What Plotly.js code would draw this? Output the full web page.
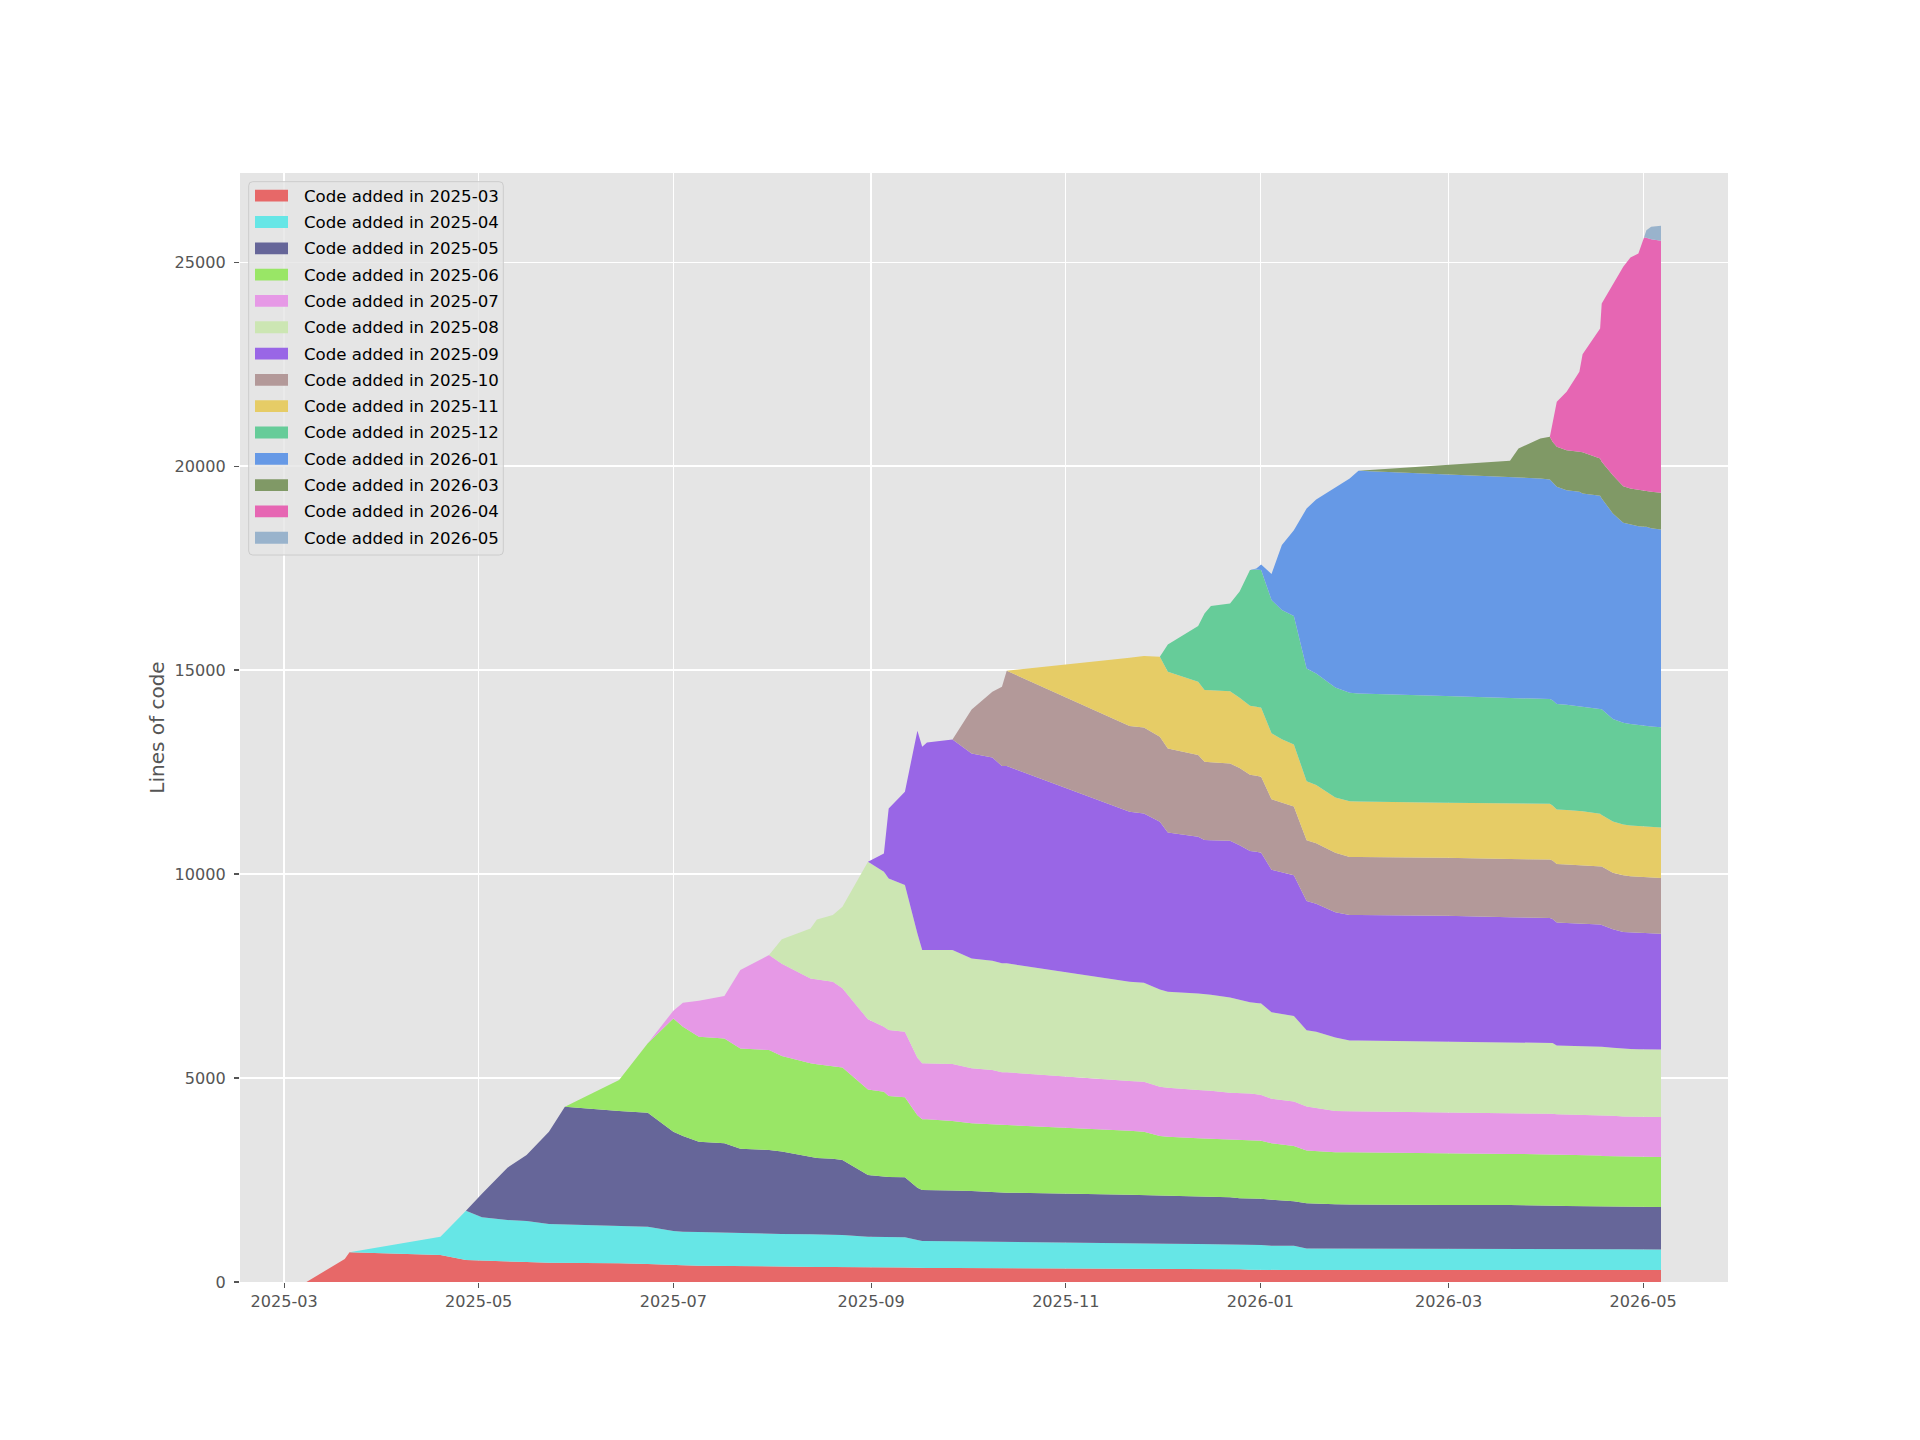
<!DOCTYPE html>
<html>
<head>
<meta charset="utf-8">
<script src="https://cdn.plot.ly/plotly-3.0.1.min.js"></script>
<style>html,body{margin:0;padding:0;background:#fff;}#chart{width:1920px;height:1440px;}</style>
</head>
<body>
<div id="chart"></div>
<script>
const dates = [
 '2025-03-08','2025-03-20','2025-03-21 12:00','2025-04-16','2025-04-19','2025-04-27','2025-05-02','2025-05-10','2025-05-16','2025-05-23',
 '2025-05-28','2025-06-14','2025-06-23','2025-07-01','2025-07-04','2025-07-09','2025-07-17','2025-07-22','2025-07-31','2025-08-04',
 '2025-08-13','2025-08-15','2025-08-20','2025-08-23','2025-08-31','2025-09-05','2025-09-06 12:00','2025-09-11 14:00','2025-09-15 12:00','2025-09-17',
 '2025-09-18 12:00','2025-09-26 12:00','2025-10-02 12:00','2025-10-09','2025-10-12','2025-10-13 12:00','2025-11-21','2025-11-25 12:00','2025-11-30 12:00','2025-12-03',
 '2025-12-12 12:00','2025-12-14 12:00','2025-12-16 12:00','2025-12-22 12:00','2025-12-25 12:00','2025-12-28 18:00','2025-12-30 18:00','2026-01-01 06:00','2026-01-04 12:00','2026-01-07 18:00',
 '2026-01-11 12:00','2026-01-15 12:00','2026-01-18 12:00','2026-01-24 12:00','2026-01-29','2026-01-31 18:00','2026-02-28','2026-03-20 06:00','2026-03-22 22:00','2026-03-29 18:00',
 '2026-04-01 18:00','2026-04-02 14:00','2026-04-03 22:00','2026-04-07','2026-04-11','2026-04-12','2026-04-17 12:00','2026-04-18','2026-04-21 12:00','2026-04-24 18:00',
 '2026-04-27','2026-04-29 12:00','2026-05-01 06:00','2026-05-02','2026-05-03 12:00','2026-05-06 14:00'
];

const cohorts = [
 'Code added in 2025-03','Code added in 2025-04','Code added in 2025-05','Code added in 2025-06',
 'Code added in 2025-07','Code added in 2025-08','Code added in 2025-09','Code added in 2025-10',
 'Code added in 2025-11','Code added in 2025-12','Code added in 2026-01','Code added in 2026-03',
 'Code added in 2026-04','Code added in 2026-05'
];

const colors = ['#e76868','#66e6e6','#666699','#99e666','#e699e6','#cce6b3','#9966e6','#b39999',
                '#e6cc66','#66cc99','#6699e6','#809966','#e666b3','#99b3cc'];

const code2025_03 = [0,564,727,678,662,539,523,498,490,474,
 474,458,441,408,408,400,392,376,368,370,
 370,370,370,370,365,360,360,355,350,343,
 343,343,342,340,340,340,335,335,335,333,
 330,330,330,330,314,300,296,296,296,296,
 296,296,296,296,296,296,296,296,296,296,
 296,296,296,296,296,296,296,296,296,296,
 296,296,296,296,296,296];

const code2025_04 = [0,0,0,400,449,1209,1062,1022,1005,948,
 939,923,915,842,826,826,817,817,808,806,
 798,795,790,782,746,751,745,740,680,662,
 662,657,648,645,640,640,621,613,610,607,
 601,600,598,593,601,615,616,614,591,591,
 591,526,526,526,526,524,519,514,514,512,
 512,511,509,509,509,509,508,508,508,504,
 502,501,501,501,500,498];

const code2025_05 = [0,0,0,0,0,0,580,1282,1618,2263,
 2884,2810,2794,2435,2344,2214,2190,2075,2059,2024,
 1888,1875,1863,1838,1512,1471,1470,1470,1282,1250,
 1250,1240,1240,1215,1210,1210,1185,1184,1163,1160,
 1161,1160,1157,1152,1136,1130,1130,1130,1127,1113,
 1090,1109,1098,1081,1078,1078,1075,1077,1077,1077,
 1077,1073,1065,1060,1057,1057,1046,1041,1034,1038,
 1040,1041,1041,1041,1042,1044];

const code2025_06 = [0,0,0,0,0,0,0,0,0,0,
 0,760,1700,2777,2680,2573,2573,2459,2451,2340,
 2304,2300,2271,2271,2099,2083,1984,1961,1773,1732,
 1732,1706,1659,1660,1658,1658,1568,1553,1470,1460,
 1429,1425,1420,1405,1423,1425,1423,1420,1386,1370,
 1358,1293,1285,1275,1278,1277,1269,1253,1253,1247,
 1247,1248,1250,1250,1248,1248,1250,1243,1248,1242,
 1237,1234,1232,1232,1230,1229];

const code2025_07 = [0,0,0,0,0,0,0,0,0,0,
 0,0,0,188,588,882,1038,1920,2329,2260,
 2083,2078,2067,1937,1716,1593,1617,1610,1413,1373,
 1373,1397,1348,1336,1292,1292,1221,1225,1209,1200,
 1185,1185,1185,1160,1163,1150,1135,1122,1090,1090,
 1090,1081,1065,1016,1007,1008,989,995,995,997,
 997,997,990,990,990,990,990,987,988,980,
 980,980,980,980,980,979];

const code2025_08 = [0,0,0,0,0,0,0,0,0,0,
 0,0,0,0,0,0,0,0,0,600,
 1225,1471,1635,2001,3864,3799,3718,3594,3048,2777,
 2777,2794,2696,2680,2671,2671,2431,2427,2386,2356,
 2369,2360,2350,2337,2273,2235,2240,2245,2124,2108,
 2097,1866,1864,1802,1737,1735,1746,1745,1745,1746,
 1746,1735,1690,1690,1690,1690,1685,1690,1666,1658,
 1657,1656,1655,1655,1654,1654];

const code2025_09 = [0,0,0,0,0,0,0,0,0,0,
 0,0,0,0,0,0,0,0,0,0,
 0,0,0,0,0,450,1716,2288,4967,4984,
 5090,5163,5025,4984,4836,4836,4167,4150,4110,3905,
 3840,3773,3787,3840,3797,3713,3705,3695,3492,3472,
 3446,3169,3141,3066,3076,3077,3085,3060,3060,3049,
 3049,3040,3013,3005,3000,3000,2990,2985,2907,2864,
 2858,2852,2849,2849,2843,2836];

const code2025_10 = [0,0,0,0,0,0,0,0,0,0,
 0,0,0,0,0,0,0,0,0,0,
 0,0,0,0,0,0,0,0,0,0,
 0,0,1078,1609,1945,2337,2100,2107,2083,2059,
 2002,1921,1913,1896,1894,1867,1865,1866,1728,1710,
 1690,1487,1478,1460,1422,1423,1423,1430,1430,1432,
 1432,1430,1432,1435,1430,1430,1435,1435,1386,1386,
 1375,1370,1368,1368,1367,1367];

const code2025_11 = [0,0,0,0,0,0,0,0,0,0,
 0,0,0,0,0,0,0,0,0,0,
 0,0,0,0,0,0,0,0,0,0,
 0,0,0,0,0,0,1674,1749,1961,1880,
 1797,1756,1765,1767,1719,1689,1690,1690,1617,1553,
 1516,1450,1432,1358,1368,1362,1349,1360,1360,1367,
 1367,1350,1339,1335,1320,1320,1280,1265,1256,1247,
 1245,1250,1248,1248,1243,1238];

const code2025_12 = [0,0,0,0,0,0,0,0,0,0,
 0,0,0,0,0,0,0,0,0,0,
 0,0,0,0,0,0,0,0,0,0,
 0,0,0,0,0,0,0,0,0,670,
 1365,1879,2064,2154,2608,3327,3367,3373,3265,3168,
 3150,2764,2733,2695,2656,2648,2612,2592,2592,2577,
 2567,2583,2587,2580,2570,2570,2580,2590,2512,2494,
 2490,2470,2465,2465,2460,2457];

const code2026_01 = [0,0,0,0,0,0,0,0,0,0,
 0,0,0,0,0,0,0,0,0,0,
 0,0,0,0,0,0,0,0,0,0,
 0,0,0,0,0,0,0,0,0,0,
 0,0,0,0,0,0,25,139,637,1593,
 2107,3921,4265,4902,5254,5458,5432,5417,5408,5398,
 5383,5337,5322,5262,5261,5220,5213,5168,5039,4902,
 4890,4879,4880,4880,4865,4849];

const code2026_03 = [0,0,0,0,0,0,0,0,0,0,
 0,0,0,0,0,0,0,0,0,0,
 0,0,0,0,0,0,0,0,0,0,
 0,0,0,0,0,0,0,0,0,0,
 0,0,0,0,0,0,0,0,0,0,
 0,0,0,0,0,0,238,392,703,980,
 1046,1000,981,980,980,1010,915,898,939,899,
 880,899,885,875,890,899];

const code2026_04 = [0,0,0,0,0,0,0,0,0,0,
 0,0,0,0,0,0,0,0,0,0,
 0,0,0,0,0,0,0,0,0,0,
 0,0,0,0,0,0,0,0,0,0,
 0,0,0,0,0,0,0,0,0,0,
 0,0,0,0,0,0,0,0,0,0,
 0,487,1103,1430,1961,2405,3186,3881,4671,5376,
 5664,5784,6205,6210,6195,6177];

const code2026_05 = [0,0,0,0,0,0,0,0,0,0,
 0,0,0,0,0,0,0,0,0,0,
 0,0,0,0,0,0,0,0,0,0,
 0,0,0,0,0,0,0,0,0,0,
 0,0,0,0,0,0,0,0,0,0,
 0,0,0,0,0,0,0,0,0,0,
 0,0,0,0,0,0,0,0,0,0,
 0,0,0,185,301,368];

const yTicks = [0, 5000, 10000, 15000, 20000, 25000];

const series = [code2025_03, code2025_04, code2025_05, code2025_06, code2025_07, code2025_08, code2025_09,
                code2025_10, code2025_11, code2025_12, code2026_01, code2026_03, code2026_04, code2026_05];

const traces = series.map((vals, i) => ({
  type: 'scatter',
  mode: 'lines',
  x: dates,
  y: vals,
  name: cohorts[i],
  stackgroup: 'one',
  fillcolor: colors[i],
  line: {width: 0, color: colors[i]},
  showlegend: false,
  hoverinfo: 'x+y+name'
}));

// ---- plot geometry (pixels) ----
const W = 1920, H = 1440;
const M = {l: 240, r: 192, t: 173, b: 158};
const PW = W - M.l - M.r, PH = H - M.t - M.b;
const px = x => (x - M.l) / PW;          // pixel -> paper x
const py = y => (H - M.b - y) / PH;      // pixel -> paper y

// ---- matplotlib-like legend box (built from cohorts/colors) ----
const font = 'DejaVu Sans, Liberation Sans, sans-serif';
const legBox = {x0: 248.7, y0: 181.7, x1: 503.3, y1: 555, r: 4};
const rowTop = 195.7, rowStep = 26.31;
const shapes = [];
const annotations = [];
(function () {
  const b = legBox, r = b.r;
  const X = px, Y = py;
  const path =
    'M' + X(b.x0 + r) + ',' + Y(b.y0) +
    ' L' + X(b.x1 - r) + ',' + Y(b.y0) +
    ' Q' + X(b.x1) + ',' + Y(b.y0) + ' ' + X(b.x1) + ',' + Y(b.y0 + r) +
    ' L' + X(b.x1) + ',' + Y(b.y1 - r) +
    ' Q' + X(b.x1) + ',' + Y(b.y1) + ' ' + X(b.x1 - r) + ',' + Y(b.y1) +
    ' L' + X(b.x0 + r) + ',' + Y(b.y1) +
    ' Q' + X(b.x0) + ',' + Y(b.y1) + ' ' + X(b.x0) + ',' + Y(b.y1 - r) +
    ' L' + X(b.x0) + ',' + Y(b.y0 + r) +
    ' Q' + X(b.x0) + ',' + Y(b.y0) + ' ' + X(b.x0 + r) + ',' + Y(b.y0) + ' Z';
  shapes.push({type: 'path', xref: 'paper', yref: 'paper', path: path,
               fillcolor: 'rgba(229,229,229,0.8)', line: {color: '#cccccc', width: 1}, layer: 'above'});
  cohorts.forEach((name, i) => {
    const yc = rowTop + rowStep * i;
    shapes.push({type: 'rect', xref: 'paper', yref: 'paper',
                 x0: px(255), x1: px(288), y0: py(yc - 5.9), y1: py(yc + 5.9),
                 fillcolor: colors[i], line: {width: 0}, layer: 'above'});
    annotations.push({xref: 'paper', yref: 'paper', x: px(302), y: py(yc + 0.5),
                      xanchor: 'left', yanchor: 'middle', showarrow: false,
                      text: name, font: {family: font, size: 16.6, color: '#000000'}});
  });
})();

const layout = {
  width: W,
  height: H,
  margin: {l: M.l, r: M.r, t: M.t, b: M.b, pad: 0},
  paper_bgcolor: '#ffffff',
  plot_bgcolor: '#e5e5e5',
  font: {family: font, color: '#555555', size: 16},
  showlegend: false,
  shapes: shapes,
  annotations: annotations,
  xaxis: {
    type: 'date',
    range: ['2025-02-15 04:00', '2026-05-27 14:00'],
    tick0: '2025-03-01', dtick: 'M2', tickformat: '%Y-%m',
    ticks: 'outside', ticklen: 5, tickwidth: 1.2, tickcolor: '#555555',
    ticklabelstandoff: 0,
    tickfont: {family: font, size: 16.1, color: '#555555'},
    showgrid: true, gridcolor: '#ffffff', gridwidth: 1.3,
    zeroline: false, showline: false
  },
  yaxis: {
    range: [0, 27186],
    tickvals: yTicks, ticktext: yTicks.map(String),
    ticks: 'outside', ticklen: 5, tickwidth: 1.2, tickcolor: '#555555',
    ticklabelstandoff: 5,
    tickfont: {family: font, size: 16.1, color: '#555555'},
    showgrid: true, gridcolor: '#ffffff', gridwidth: 1.3,
    zeroline: false, showline: false,
    title: {text: 'Lines of code', font: {family: font, size: 20, color: '#555555'}, standoff: 4}
  }
};

Plotly.newPlot('chart', traces, layout, {displayModeBar: false, staticPlot: true});
</script>
</body>
</html>
